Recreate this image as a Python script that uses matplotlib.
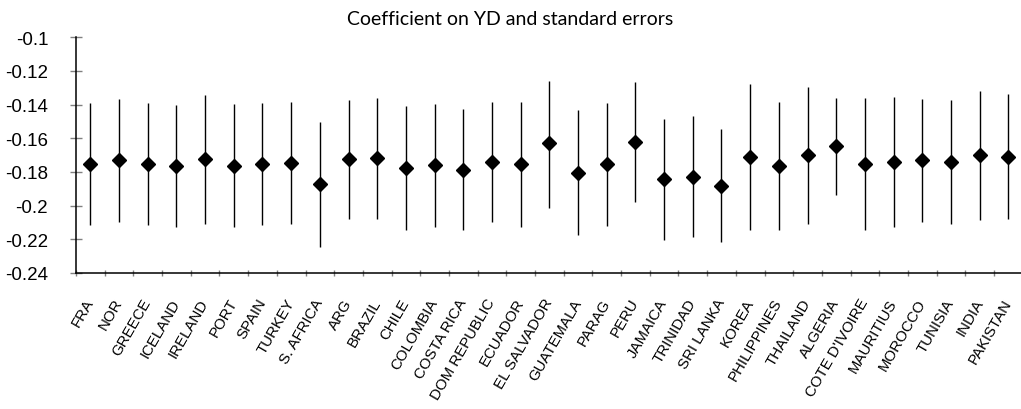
import matplotlib
matplotlib.use("Agg")
import matplotlib.pyplot as plt
import numpy as np

# categories and values
countries = ["FRA", "NOR", "GREECE", "ICELAND", "IRELAND", "PORT", "SPAIN", "TURKEY",
             "S. AFRICA", "ARG", "BRAZIL", "CHILE", "COLOMBIA", "COSTA RICA",
             "DOM REPUBLIC", "ECUADOR", "EL SALVADOR", "GUATEMALA", "PARAG", "PERU",
             "JAMAICA", "TRINIDAD", "SRI LANKA", "KOREA", "PHILIPPINES", "THAILAND",
             "ALGERIA", "COTE D'IVOIRE", "MAURITIUS", "MOROCCO", "TUNISIA", "INDIA",
             "PAKISTAN"]

coef = [-0.1754, -0.1729, -0.1754, -0.1762, -0.1725, -0.1762, -0.1750, -0.1749,
        -0.1873, -0.1723, -0.1717, -0.1776, -0.1760, -0.1790, -0.1739, -0.1752,
        -0.1630, -0.1804, -0.1754, -0.1624, -0.1842, -0.1828, -0.1881, -0.1709,
        -0.1764, -0.1697, -0.1644, -0.1752, -0.1739, -0.1729, -0.1739, -0.1701,
        -0.1711]

upper = [-0.1392, -0.1366, -0.1390, -0.1402, -0.1343, -0.1396, -0.1392, -0.1386,
         -0.1505, -0.1372, -0.1360, -0.1410, -0.1396, -0.1426, -0.1386, -0.1386,
         -0.1261, -0.1432, -0.1390, -0.1267, -0.1485, -0.1467, -0.1545, -0.1277,
         -0.1384, -0.1297, -0.1360, -0.1360, -0.1354, -0.1366, -0.1372, -0.1319,
         -0.1337]

lower = [-0.2113, -0.2095, -0.2113, -0.2125, -0.2107, -0.2125, -0.2113, -0.2107,
         -0.2244, -0.2077, -0.2077, -0.2147, -0.2125, -0.2147, -0.2095, -0.2125,
         -0.2012, -0.2172, -0.2119, -0.1976, -0.2202, -0.2184, -0.2214, -0.2143,
         -0.2143, -0.2107, -0.1935, -0.2143, -0.2125, -0.2095, -0.2107, -0.2083,
         -0.2077]

yticks = [-0.1, -0.12, -0.14, -0.16, -0.18, -0.2, -0.22, -0.24]
ytick_labels = ["-0.1", "-0.12", "-0.14", "-0.16", "-0.18", "-0.2", "-0.22", "-0.24"]

fig = plt.figure(figsize=(10.21, 4.10), dpi=100)
# the plot area runs a little past the right edge, as in the reference
ax = fig.add_axes([76 / 1021, 136 / 410, 946.7 / 1021, 235.7 / 410])

x = np.arange(len(countries))
ax.vlines(x, lower, upper, color="black", linewidth=1.0)
ax.plot(x, coef, linestyle="none", marker="D", markersize=7.6, color="black")

ax.set_xlim(-0.5, len(countries) - 0.5)
ax.set_ylim(-0.24, -0.1)

ax.set_yticks(yticks)
ax.set_yticklabels(ytick_labels, fontsize=13.5, family="Liberation Sans")
ax.tick_params(axis="y", direction="inout", length=8, width=1, color="#808080", pad=16)

# x ticks sit on the category boundaries, labels in the middle
ax.set_xticks(np.arange(len(countries) + 1) - 0.5)
ax.set_xticklabels([])
ax.set_xticks(x, minor=True)
ax.set_xticklabels(countries, minor=True, rotation=60, ha="right", va="center",
                   rotation_mode="anchor", fontsize=10.8, family="Liberation Sans")
ax.tick_params(axis="x", which="major", direction="inout", length=5, width=1, color="#808080")
ax.tick_params(axis="x", which="minor", length=0, pad=19)

for side in ["top", "right"]:
    ax.spines[side].set_visible(False)
ax.spines["left"].set_linewidth(1.1)
ax.spines["bottom"].set_linewidth(1.1)

fig.text(0.5, 0.953, "Coefficient on YD and standard errors", ha="center", va="center",
         fontsize=14, family="Lato")

fig.savefig("out.png", dpi=100)
